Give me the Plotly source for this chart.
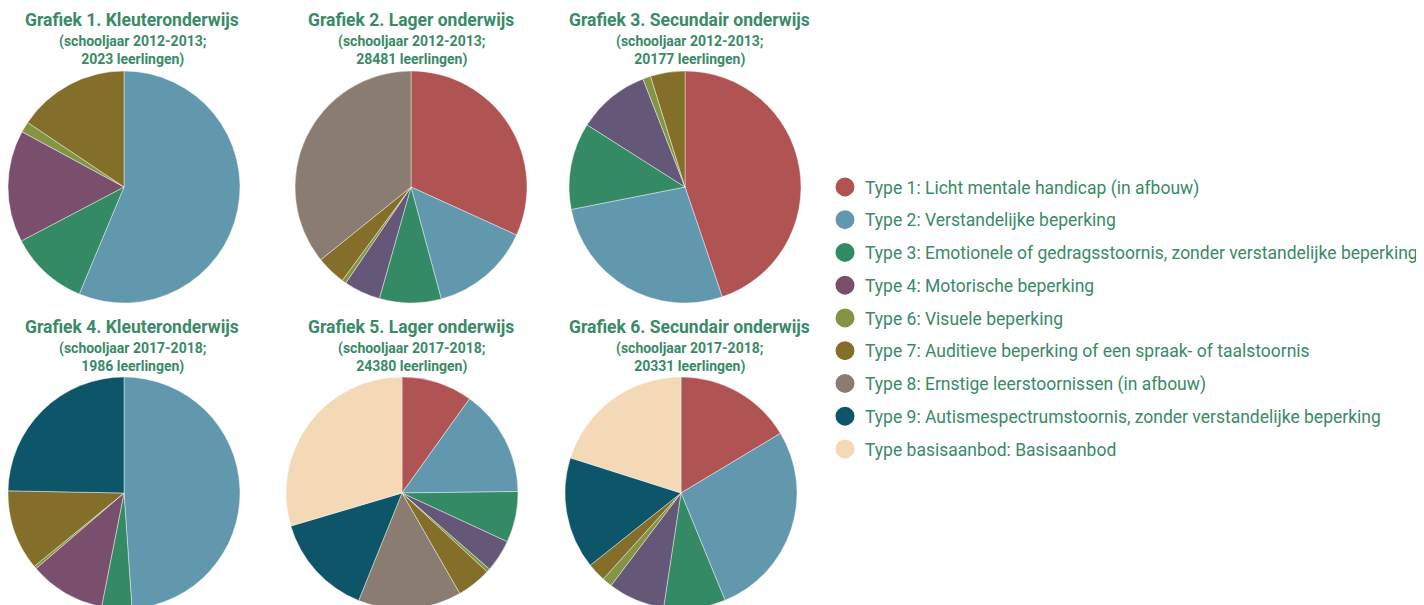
import plotly.graph_objects as go

types = [
    "Type 1: Licht mentale handicap (in afbouw)",
    "Type 2: Verstandelijke beperking",
    "Type 3: Emotionele of gedragsstoornis, zonder verstandelijke beperking",
    "Type 4: Motorische beperking",
    "Type 6: Visuele beperking",
    "Type 7: Auditieve beperking of een spraak- of taalstoornis",
    "Type 8: Ernstige leerstoornissen (in afbouw)",
    "Type 9: Autismespectrumstoornis, zonder verstandelijke beperking",
    "Type basisaanbod: Basisaanbod",
]

# shares (%) per type
g1_kleuter_2012 = [0, 56.3, 11.0, 15.6, 1.5, 15.6, 0, 0, 0]
g2_lager_2012 = [31.8, 14.0, 8.6, 5.1, 0.6, 4.1, 35.8, 0, 0]
g3_secundair_2012 = [44.8, 27.1, 12.1, 10.1, 1.1, 4.8, 0, 0, 0]
g4_kleuter_2017 = [0, 48.9, 4.2, 10.6, 0.4, 11.2, 0, 24.7, 0]
g5_lager_2017 = [9.9, 14.9, 7.1, 4.5, 0.5, 4.8, 14.4, 14.3, 29.6]
g6_secundair_2017 = [16.4, 27.4, 8.6, 7.9, 1.4, 2.6, 0, 15.6, 20.1]

titles = [
    "Grafiek 1. Kleuteronderwijs",
    "Grafiek 2. Lager onderwijs",
    "Grafiek 3. Secundair onderwijs",
    "Grafiek 4. Kleuteronderwijs",
    "Grafiek 5. Lager onderwijs",
    "Grafiek 6. Secundair onderwijs",
]
years = ["2012-2013", "2012-2013", "2012-2013", "2017-2018", "2017-2018", "2017-2018"]
pupils = ["2023", "28481", "20177", "1986", "24380", "20331"]

colors = ["#B05353", "#6298AE", "#348A64", "#7A4F6D", "#849445",
          "#836F2A", "#8A7C70", "#0D5569", "#F3D9B5"]
type4_alt = "#645777"

W, H = 1424, 605
OFF = 8  # page offset of the figure
GREEN = "#3A8A66"
FONT = "Roboto"

# pie boxes (centre x, centre y from top, radius) in screen pixels
boxes = [(124, 187, 116), (411, 187, 116), (685, 187, 116),
         (124, 493, 116), (402, 493, 116), (681, 493, 116)]
title_x = [132, 411, 689, 132, 411, 689]
title_y = [20, 327]

series = [g1_kleuter_2012, g2_lager_2012, g3_secundair_2012,
          g4_kleuter_2017, g5_lager_2017, g6_secundair_2017]


def px(x):
    return (x - OFF) / W


def py(y):
    return 1 - (y - OFF) / H


fig = go.Figure()
for i, vals in enumerate(series):
    cx, cy, r = boxes[i]
    cols = list(colors)
    if i not in (0, 3):
        cols[3] = type4_alt
    labs = [t for t, v in zip(types, vals) if v > 0]
    vv = [v for v in vals if v > 0]
    cc = [c for c, v in zip(cols, vals) if v > 0]
    fig.add_trace(go.Pie(
        labels=labs, values=vv, sort=False, direction="clockwise", rotation=0,
        marker=dict(colors=cc, line=dict(color="rgba(255,255,255,0.7)", width=0.6)),
        textinfo="none", hoverinfo="label+percent", showlegend=False,
        domain=dict(x=[px(cx - r), px(cx + r)],
                    y=[max(0, py(cy + r)), min(1, py(cy - r))]),
    ))

for t, c in zip(types, colors):
    fig.add_trace(go.Scatter(
        x=[None], y=[None], mode="markers", name=t, legendgroup=t,
        marker=dict(color=c, size=16, symbol="circle", line=dict(color=c, width=3)),
    ))

for i in range(6):
    ty = title_y[i // 3]
    fig.add_annotation(
        x=px(title_x[i]), y=py(ty), xref="paper", yref="paper",
        text=f"<b>{titles[i]}</b>", showarrow=False, xanchor="center", yanchor="middle",
        font=dict(family=FONT, size=17.5, color=GREEN),
    )
    fig.add_annotation(
        x=px(title_x[i]), y=py(ty + 30), xref="paper", yref="paper",
        text=f"<b>(schooljaar {years[i]};<br>{pupils[i]} leerlingen)</b>",
        showarrow=False, xanchor="center", yanchor="middle",
        font=dict(family=FONT, size=14, color=GREEN),
    )

fig.update_layout(
    width=W, height=H, margin=dict(l=0, r=0, t=0, b=0),
    paper_bgcolor="white", plot_bgcolor="white",
    xaxis=dict(visible=False), yaxis=dict(visible=False),
    showlegend=True,
    legend=dict(x=px(825), y=py(169), xanchor="left", yanchor="top",
                font=dict(family=FONT, size=17.5, color=GREEN),
                tracegroupgap=7, traceorder="grouped", itemsizing="trace",
                bgcolor="rgba(0,0,0,0)"),
    font=dict(family=FONT, color=GREEN),
)

fig.write_html("out.html")
